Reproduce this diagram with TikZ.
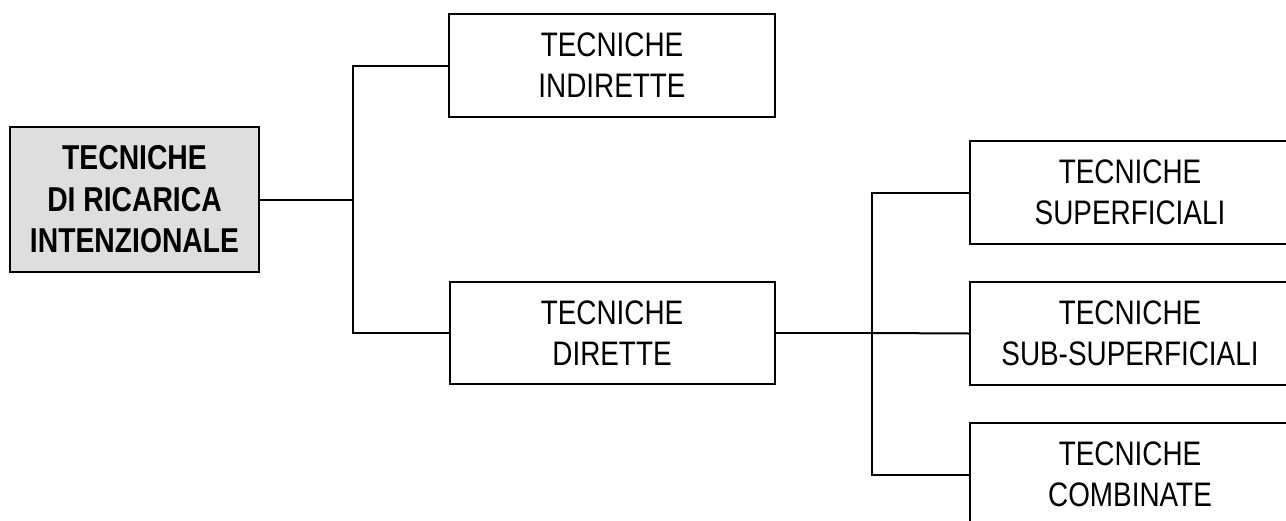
\documentclass[tikz,border=0pt]{standalone}
\usepackage{fontspec}
\setmainfont{Liberation Sans}[FakeStretch=0.82]
\definecolor{rootgray}{HTML}{DEDEDE}
\tikzset{
  box/.style={draw=black, line width=2pt, rectangle, align=center, inner sep=0pt,
    font=\fontsize{34}{41}\selectfont},
  rootbox/.style={box, fill=rootgray, font=\fontsize{34.5}{41.5}\selectfont\bfseries},
  link/.style={draw=black, line width=2pt}
}
\begin{document}
\begin{tikzpicture}[x=1pt,y=-1pt]
\useasboundingbox (0,0) rectangle (1286,520);
\clip (0,0) rectangle (1286,520);
\node[rootbox, minimum width=249pt, minimum height=145pt] (root) at (134.5,199.5) {TECNICHE\\DI RICARICA\\INTENZIONALE};
\node[box, minimum width=326pt, minimum height=103pt] (ind) at (612,65.5) {TECNICHE\\INDIRETTE};
\node[box, minimum width=325pt, minimum height=102pt] (dir) at (612,333) {TECNICHE\\DIRETTE};
\node[box, minimum width=320pt, minimum height=103pt] (sup) at (1130,192.5) {TECNICHE\\SUPERFICIALI};
\node[box, minimum width=320pt, minimum height=103pt] (sub) at (1130,333.5) {TECNICHE\\SUB-SUPERFICIALI};
\node[box, minimum width=320pt, minimum height=103pt] (com) at (1130,474.5) {TECNICHE\\COMBINATE};
\coordinate (j1) at (353,199.5);
\coordinate (j2) at (872,333);
\draw[link] (root.east) -- (j1);
\draw[link] (ind.west) -| (j1) |- (dir.west);
\draw[link] (dir.east) -- (j2);
\draw[link] (sup.west) -| (j2) |- (com.west);
\draw[link] (j2) -- (sub.west);
\end{tikzpicture}
\end{document}
